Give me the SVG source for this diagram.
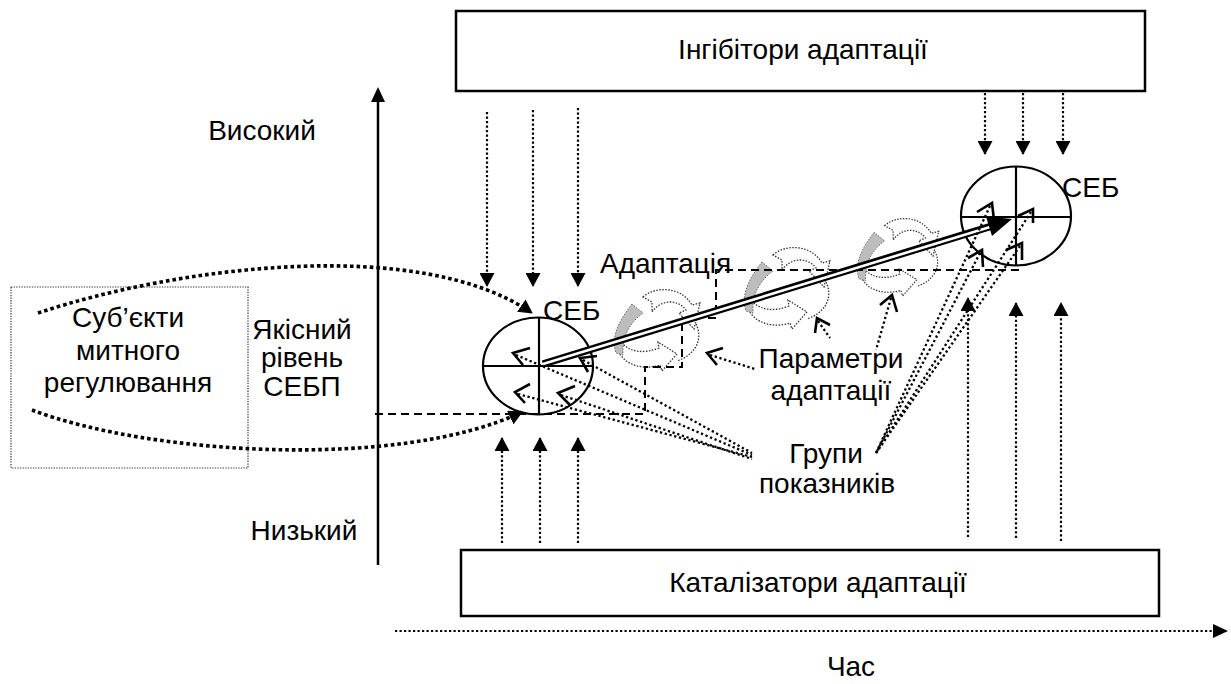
<svg xmlns="http://www.w3.org/2000/svg" width="1231" height="684" viewBox="0 0 1231 684">
<style>
text{font-family:"Liberation Sans",Arial,sans-serif;font-size:28px;fill:#000}
.mid{text-anchor:middle}
.box{fill:#fff;stroke:#000;stroke-width:2.5}
.ax{stroke:#000;stroke-width:2.5;fill:none}
.dv{stroke:#000;stroke-width:2.2;stroke-dasharray:2.2 2.3;fill:none}
.thick{stroke:#000;stroke-width:3.6;stroke-dasharray:3.6 3;fill:none}
.ptr{stroke:#000;stroke-width:2.3;stroke-dasharray:2.3 2.6;fill:none}
.dash{stroke:#000;stroke-width:2;stroke-dasharray:8 5;fill:none}
.open{stroke:#000;stroke-width:2.6;fill:none}
.circ{fill:none;stroke:#000;stroke-width:2.2}
.rotd{fill:#fff;stroke:#333;stroke-width:1.3;stroke-dasharray:1.5 1.5}
.rotl{fill:none;stroke:#333;stroke-width:1.3;stroke-dasharray:1.5 1.5}
.cres{fill:#bdbdbd;stroke:#666;stroke-width:1;stroke-dasharray:1.5 1.5}
</style>
<defs>
<marker id="ah" viewBox="0 0 14 15" refX="13" refY="7.5" markerWidth="14" markerHeight="15" markerUnits="userSpaceOnUse" orient="auto">
<path d="M0,0 L14,7.5 L0,15 Z" fill="#000"/>
</marker>
<g id="rot">
<path class="rotd" d="M-12,-33 C0,-44 26,-44 37,-25 L45,-27 L39,-1 L24,-17 L31,-20 C23,-31 6,-31 -3,-18 L-3,-28 Z"/>
<path class="rotd" d="M-35,24 C-28,36 -10,40 5,35 L7,41 L22,24 L3,12 L4,18 C-12,24 -24,22 -32,14 Z"/>
<path class="rotl" d="M41,-6 C48,8 42,24 22,31"/>
<path class="cres" d="M-23,-26 C-34,-12 -45,6 -39,23 L-32,25 C-33,8 -27,-6 -12,-17 Z"/>
</g>
</defs>

<g id="inhibitors">
<rect class="box" x="456" y="11" width="689" height="80"/>
<text class="mid" x="803" y="59">Інгібітори адаптації</text>
</g>
<g id="catalysts">
<rect class="box" x="461" y="550" width="698" height="66"/>
<text class="mid" x="818" y="592">Каталізатори адаптації</text>
</g>
<g id="subjects">
<rect x="11" y="287" width="237" height="181" fill="none" stroke="#333" stroke-width="1.2" stroke-dasharray="1.3 1.3"/>
<text class="mid" x="128" y="327">Суб’єкти</text>
<text class="mid" x="128" y="360">митного</text>
<text class="mid" x="128" y="392">регулювання</text>
</g>
<g id="axis-labels">
<text class="mid" x="262" y="140">Високий</text>
<text class="mid" x="302" y="339">Якісний</text>
<text class="mid" x="302" y="367">рівень</text>
<text class="mid" x="302" y="396">СЕБП</text>
<text class="mid" x="304" y="540">Низький</text>
<text class="mid" x="851" y="676">Час</text>
</g>
<g id="icons">
<use href="#rot" transform="translate(655,330)"/>
<use href="#rot" transform="translate(785,288)"/>
<use href="#rot" transform="translate(896,257) scale(0.95)"/>
</g>
<g id="seb1">
<ellipse class="circ" cx="538" cy="366" rx="55" ry="48.5"/>
<line class="circ" x1="539" y1="317" x2="539" y2="414"/>
<line class="circ" x1="483" y1="366" x2="593" y2="366"/>
<text x="543" y="320">СЕБ</text>
</g>
<g id="seb2">
<ellipse class="circ" cx="1016" cy="216" rx="55" ry="49.5"/>
<line class="circ" x1="1016" y1="167" x2="1016" y2="266"/>
<line class="circ" x1="961" y1="217" x2="1071" y2="217"/>
<text x="1062" y="197">СЕБ</text>
</g>
<g id="labels">
<text x="600" y="273">Адаптація</text>
<text class="mid" x="831" y="368">Параметри</text>
<text class="mid" x="831" y="400">адаптації</text>
<text class="mid" x="826" y="463">Групи</text>
<text class="mid" x="827" y="493">показників</text>
</g>
<g id="connectors">
<line class="ax" x1="378" y1="565" x2="378" y2="100"/>
<polygon points="371,102 385,102 378,87" fill="#000"/>
<line class="dv" x1="395" y1="631" x2="1213" y2="631"/>
<polygon points="1213,624 1228,631 1213,638" fill="#000"/>

<line class="dv" x1="487" y1="112" x2="487" y2="286" marker-end="url(#ah)"/>
<line class="dv" x1="533" y1="110" x2="533" y2="286" marker-end="url(#ah)"/>
<line class="dv" x1="578" y1="108" x2="578" y2="286" marker-end="url(#ah)"/>
<line class="dv" x1="985" y1="93" x2="985" y2="154" marker-end="url(#ah)"/>
<line class="dv" x1="1023" y1="93" x2="1023" y2="154" marker-end="url(#ah)"/>
<line class="dv" x1="1063" y1="93" x2="1063" y2="154" marker-end="url(#ah)"/>
<line class="dv" x1="502" y1="543" x2="502" y2="438" marker-end="url(#ah)"/>
<line class="dv" x1="540" y1="543" x2="540" y2="438" marker-end="url(#ah)"/>
<line class="dv" x1="578" y1="543" x2="578" y2="438" marker-end="url(#ah)"/>
<line class="dv" x1="968" y1="537" x2="968" y2="298" marker-end="url(#ah)"/>
<line class="dv" x1="1016" y1="538" x2="1016" y2="303" marker-end="url(#ah)"/>
<line class="dv" x1="1061" y1="541" x2="1061" y2="303" marker-end="url(#ah)"/>

<path class="thick" d="M38,313 C180,266 420,236 532,313" marker-end="url(#ah)"/>
<path class="thick" d="M32,410 C150,455 400,470 522,412" marker-end="url(#ah)"/>

<path class="dash" d="M375,414 H645 V367 H682 V318 H716 V270 H1022"/>

<path d="M543,364 L992,226" stroke="#000" stroke-width="7.5" fill="none"/>
<path d="M543,364 L990,227" stroke="#fff" stroke-width="2.6" fill="none"/>
<polygon points="1012,219 992,236 986,216.5" fill="#000"/>

<polyline class="open" points="530,348 513,353 523,365"/>
<polyline class="open" points="530,384 515,392 525,403"/>
<polyline class="open" points="575,386 558,393 570,405"/>
<polyline class="open" points="597,356 580,358 588,372"/>
<line class="ptr" x1="516" y1="355" x2="752" y2="455"/>
<line class="ptr" x1="518" y1="394" x2="752" y2="457"/>
<line class="ptr" x1="561" y1="395" x2="752" y2="459"/>
<line class="ptr" x1="583" y1="360" x2="752" y2="453"/>

<polyline class="open" points="977,212 992,203 994,220"/>
<polyline class="open" points="1018,216 1033,209 1033,223"/>
<polyline class="open" points="968,258 982,250 983,267"/>
<polyline class="open" points="1006,250 1022,243 1022,260"/>
<line class="ptr" x1="990" y1="206" x2="876" y2="453"/>
<line class="ptr" x1="1031" y1="212" x2="876" y2="453"/>
<line class="ptr" x1="980" y1="253" x2="876" y2="453"/>
<line class="ptr" x1="1020" y1="246" x2="876" y2="453"/>

<polyline class="open" points="723,348 707,353 717,365"/>
<line class="ptr" x1="710" y1="355" x2="755" y2="369"/>
<polyline class="open" points="815,333 817,318 830,325"/>
<line class="ptr" x1="818" y1="321" x2="830" y2="338"/>
<polyline class="open" points="880,305 892,295 897,312"/>
<line class="ptr" x1="891" y1="298" x2="876" y2="350"/>
</g>
</svg>
